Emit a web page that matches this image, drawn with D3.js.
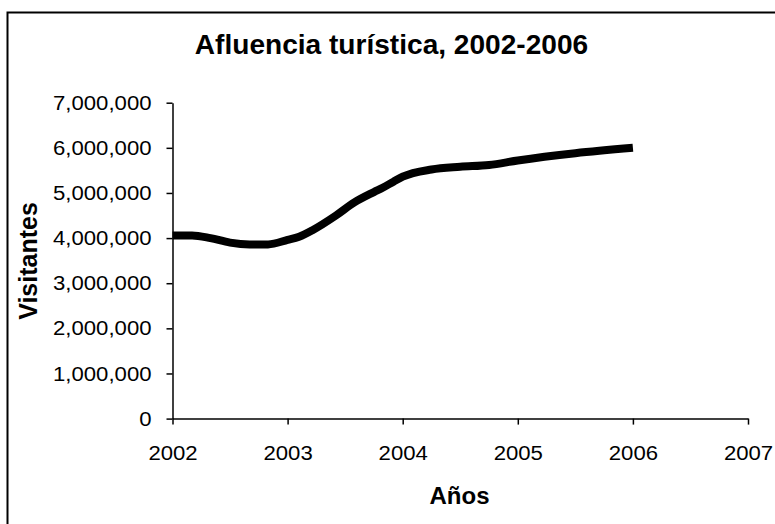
<!DOCTYPE html>
<html>
<head>
<meta charset="utf-8">
<script src="https://cdn.jsdelivr.net/npm/d3@7/dist/d3.min.js"></script>
<style>
  html, body { margin: 0; padding: 0; background: #fff; }
  svg { display: block; }
  text { font-family: "Liberation Sans", Arial, sans-serif; fill: #000; }
</style>
</head>
<body>
<svg id="chart" width="775" height="524"></svg>
<script>
// ---- data ----
const years = [2002.00, 2002.17, 2002.33, 2002.50, 2002.67, 2002.83, 2003.00, 2003.10, 2003.22,
               2003.42, 2003.58, 2003.75, 2003.83, 2003.92, 2004.00, 2004.25, 2004.50, 2004.75,
               2005.00, 2005.50, 2006.00];
const visitors = [4060000, 4060000, 4000000, 3900000, 3860000, 3860000, 3960000, 4030000, 4180000,
                  4500000, 4790000, 5020000, 5120000, 5250000, 5360000, 5520000, 5580000, 5620000,
                  5720000, 5880000, 6000000];
const xTicks = [2002, 2003, 2004, 2005, 2006, 2007];
const yTicks = [0, 1000000, 2000000, 3000000, 4000000, 5000000, 6000000, 7000000];
const titleText = "Afluencia turística, 2002-2006";
const xTitle = "Años";
const yTitle = "Visitantes";

// ---- layout ----
const svg = d3.select("#chart");
const x = d3.scaleLinear().domain([2002, 2007]).range([172.5, 748]);
const y = d3.scaleLinear().domain([0, 7000000]).range([418.6, 102.7]);

function stretch(sel, k) {
  sel.each(function () {
    const w = this.getComputedTextLength();
    this.setAttribute("textLength", w * k);
    this.setAttribute("lengthAdjust", "spacingAndGlyphs");
  });
}

// frame
svg.append("rect")
  .attr("x", 7.5).attr("y", 12.5)
  .attr("width", 800).attr("height", 600)
  .attr("fill", "none").attr("stroke", "#000").attr("stroke-width", 2);

// title
svg.append("text")
  .attr("x", 391.5).attr("y", 54)
  .attr("text-anchor", "middle")
  .style("font-size", "27px").style("font-weight", "bold")
  .text(titleText)
  .call(stretch, 1.04);

// y axis
const yAxis = svg.append("g")
  .attr("transform", "translate(172.5,0)")
  .call(d3.axisLeft(y).tickValues(yTicks).tickFormat(d3.format(",")).tickSizeInner(6).tickSizeOuter(0).tickPadding(15));
yAxis.select(".domain").attr("stroke", "#000").attr("stroke-width", 1.5);
yAxis.selectAll(".tick line").attr("stroke", "#000").attr("stroke-width", 1.5);
yAxis.selectAll("text").style("font-size", "20.5px").style("font-family", "Liberation Sans, Arial, sans-serif")
  .attr("fill", "#000").call(stretch, 1.08);

// x axis
const xAxis = svg.append("g")
  .attr("transform", "translate(0,418.6)")
  .call(d3.axisBottom(x).tickValues(xTicks).tickFormat(d3.format("d")).tickSizeInner(6).tickSizeOuter(0).tickPadding(21));
xAxis.select(".domain").attr("stroke", "#000").attr("stroke-width", 1.5);
xAxis.selectAll(".tick line").attr("stroke", "#000").attr("stroke-width", 1.5);
xAxis.selectAll("text").style("font-size", "20.5px").style("font-family", "Liberation Sans, Arial, sans-serif")
  .attr("fill", "#000").call(stretch, 1.08);

// axis titles
svg.append("text")
  .attr("x", 459.5).attr("y", 504)
  .attr("text-anchor", "middle")
  .style("font-size", "24px").style("font-weight", "bold")
  .text(xTitle);

svg.append("text")
  .attr("transform", "translate(37,261) rotate(-90)")
  .attr("text-anchor", "middle")
  .style("font-size", "25px").style("font-weight", "bold")
  .text(yTitle);

// line
const pts = years.map((yr, i) => [yr, visitors[i]]);
const line = d3.line()
  .x(d => x(d[0]))
  .y(d => y(d[1]))
  .curve(d3.curveMonotoneX);
svg.append("path")
  .datum(pts)
  .attr("d", line)
  .attr("fill", "none")
  .attr("stroke", "#000")
  .attr("stroke-width", 8)
  .attr("stroke-linecap", "butt")
  .attr("stroke-linejoin", "round");
</script>
</body>
</html>
